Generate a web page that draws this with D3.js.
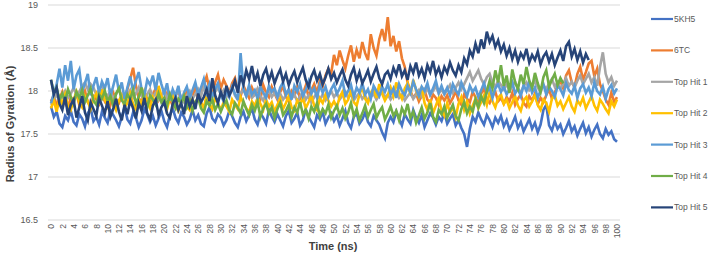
<!DOCTYPE html>
<html>
<head>
<meta charset="utf-8">
<script src="https://cdn.jsdelivr.net/npm/d3@7"></script>
<style>
  html, body { margin: 0; padding: 0; background: #fff; }
  svg { display: block; font-family: "Liberation Sans", Arial, sans-serif; }
</style>
</head>
<body>
<div id="chart"></div>
<script>
const seriesNames = ['5KH5', '6TC', 'Top Hit 1', 'Top Hit 2', 'Top Hit 3', 'Top Hit 4', 'Top Hit 5'];
const seriesColors = ['#4472C4', '#ED7D31', '#A5A5A5', '#FFC000', '#5B9BD5', '#70AD47', '#264478'];
const timeStep = 0.5;
const xTicks = [0,2,4,6,8,10,12,14,16,18,20,22,24,26,28,30,32,34,36,38,40,42,44,46,48,50,52,54,56,58,60,62,64,66,68,70,72,74,76,78,80,82,84,86,88,90,92,94,96,98,100];
const yTicks = [16.5, 17, 17.5, 18, 18.5, 19];

const rg5KH5 = [
  17.82,17.70,17.76,17.62,17.58,17.71,17.66,17.77,17.64,17.60,17.73,17.68,17.59,17.74,17.80,17.65,17.70,17.61,17.76,17.69,
  17.63,17.78,17.72,17.66,17.59,17.70,17.81,17.67,17.62,17.75,17.69,17.58,17.66,17.79,17.73,17.64,17.71,17.60,17.68,17.77,
  17.65,17.58,17.72,17.80,17.69,17.63,17.75,17.70,17.61,17.67,17.78,17.66,17.72,17.62,17.59,17.74,17.81,17.68,17.64,17.73,
  17.69,17.60,17.66,17.77,17.71,17.63,17.58,17.70,17.76,17.65,17.72,17.80,17.67,17.61,17.74,17.69,17.62,17.78,17.70,17.64,
  17.73,17.66,17.59,17.71,17.77,17.63,17.68,17.75,17.60,17.66,17.79,17.70,17.64,17.58,17.72,17.67,17.76,17.62,17.69,17.74,
  17.65,17.71,17.60,17.68,17.77,17.63,17.57,17.70,17.74,17.62,17.67,17.75,17.64,17.59,17.71,17.66,17.61,17.52,17.45,17.63,
  17.70,17.64,17.76,17.68,17.60,17.73,17.67,17.62,17.78,17.69,17.63,17.72,17.58,17.66,17.74,17.69,17.61,17.70,17.65,17.75,
  17.62,17.68,17.73,17.60,17.66,17.57,17.50,17.35,17.56,17.70,17.64,17.75,17.67,17.61,17.72,17.66,17.58,17.69,17.63,17.71,
  17.59,17.66,17.55,17.62,17.70,17.57,17.64,17.53,17.60,17.67,17.56,17.63,17.52,17.61,17.78,17.84,17.60,17.54,17.65,17.56,
  17.61,17.50,17.57,17.65,17.53,17.59,17.48,17.56,17.63,17.51,17.58,17.47,17.55,17.61,17.50,17.45,17.56,17.49,17.53,17.44,
  17.41
];
const rg6TC = [
  17.88,17.95,17.83,17.91,17.99,17.86,17.80,17.93,17.89,17.97,17.84,17.92,18.00,17.87,17.82,17.94,17.90,17.85,17.96,17.88,
  17.93,17.84,17.98,17.90,17.86,17.95,17.88,18.02,18.14,18.27,18.06,17.92,17.87,17.99,17.91,17.84,17.96,18.03,17.89,17.94,
  17.86,17.97,17.91,17.83,17.95,18.01,17.88,17.93,17.99,17.87,17.94,18.04,17.92,17.98,18.08,18.17,18.02,17.95,18.10,18.19,
  18.03,18.13,18.06,17.97,18.09,18.15,18.01,17.94,18.06,17.99,17.92,18.04,17.96,18.01,17.91,18.07,17.98,17.93,18.05,17.97,
  17.90,17.99,18.06,17.93,17.88,18.00,17.95,18.04,17.91,17.97,18.06,17.94,18.01,18.08,17.98,18.12,18.05,18.18,18.26,18.20,
  18.42,18.30,18.47,18.36,18.26,18.41,18.53,18.34,18.48,18.38,18.57,18.44,18.36,18.66,18.50,18.41,18.60,18.72,18.58,18.86,
  18.52,18.64,18.46,18.58,18.38,18.28,18.10,18.00,17.92,17.97,17.88,17.95,18.01,17.90,17.86,17.96,17.92,17.84,17.94,17.89,
  17.95,17.86,17.92,18.00,17.89,17.84,17.96,17.91,17.87,17.99,17.93,17.85,17.97,18.03,17.90,17.86,17.94,17.99,17.88,17.92,
  17.85,17.93,17.88,17.98,17.84,17.91,17.96,17.86,17.82,17.94,17.89,17.97,17.85,17.92,17.87,17.95,18.02,17.91,17.98,18.06,
  18.12,18.03,18.18,18.24,18.10,18.05,18.20,18.28,18.13,18.22,18.32,18.35,18.17,18.26,18.08,18.00,17.90,17.84,17.98,17.87,
  17.93
];
const rgTopHit1 = [
  17.84,17.90,17.96,17.88,17.93,18.00,17.92,17.97,18.04,17.95,17.99,18.06,18.10,18.02,18.08,18.04,17.96,18.01,18.07,17.98,
  17.94,18.00,17.91,17.96,18.03,17.93,17.88,17.95,18.01,17.92,17.97,18.04,17.94,17.89,17.96,18.02,17.93,17.98,17.90,17.95,
  18.00,17.92,17.97,17.88,17.94,18.01,17.93,17.87,17.95,18.00,17.91,17.96,18.02,17.94,18.05,17.97,18.03,18.07,17.99,18.04,
  17.96,18.01,17.93,17.98,18.04,17.95,17.90,17.97,18.02,17.94,17.99,17.92,17.96,18.03,17.94,17.89,17.97,18.01,17.93,17.98,
  17.92,17.97,17.90,17.95,18.00,17.91,17.96,17.88,17.94,17.99,17.90,17.95,17.87,17.93,17.98,17.90,17.96,17.89,17.94,18.00,
  17.93,17.98,17.90,17.95,17.99,17.92,17.96,17.89,17.94,17.98,17.91,17.95,17.88,17.93,17.97,17.90,17.95,18.00,17.92,17.96,
  17.90,17.95,17.99,17.92,17.96,17.89,17.94,17.98,17.91,17.96,18.01,17.93,17.97,18.03,17.95,18.00,18.06,17.97,18.02,17.96,
  18.01,18.07,17.98,18.04,18.10,18.02,18.08,18.15,18.22,18.12,18.18,18.24,18.14,18.08,18.16,18.20,18.10,18.05,18.12,18.07,
  18.02,18.08,18.00,18.05,18.11,18.03,17.98,18.06,18.10,18.01,18.05,18.12,18.04,17.99,18.07,18.02,18.09,18.14,18.05,18.10,
  18.03,18.08,18.15,18.06,18.11,18.04,18.12,18.18,18.08,18.14,18.20,18.10,18.16,18.06,18.28,18.45,18.20,18.10,18.16,18.06,
  18.12
];
const rgTopHit2 = [
  17.80,17.89,17.76,17.92,17.85,17.96,17.83,17.78,17.90,17.99,17.86,17.81,17.94,17.88,17.79,17.91,17.97,17.84,18.02,17.90,
  17.82,17.93,17.87,17.78,17.89,17.95,17.81,17.86,17.97,17.85,17.79,17.91,17.84,17.99,17.88,17.80,17.93,17.86,18.06,17.94,
  17.85,17.79,17.91,17.97,17.83,17.77,17.88,17.95,17.82,17.78,17.90,17.84,17.93,17.87,17.80,17.96,17.85,17.79,17.92,17.86,
  17.78,17.87,17.82,17.76,17.90,17.84,17.79,17.93,17.86,17.80,17.75,17.88,17.83,17.92,17.85,17.78,17.90,17.82,17.87,17.76,
  17.84,17.91,17.79,17.86,17.94,17.81,17.77,17.89,17.84,17.92,17.80,17.87,17.95,17.83,17.78,17.91,17.86,17.96,17.89,17.82,
  17.88,17.81,17.93,17.99,17.85,17.90,18.02,17.87,17.83,17.96,18.05,17.91,17.86,17.98,18.03,17.92,18.08,17.97,17.89,17.95,
  18.04,17.94,18.10,17.98,17.91,18.03,18.09,17.96,18.13,18.01,17.93,18.05,17.86,17.78,17.90,17.74,17.83,17.92,17.77,17.71,
  17.86,17.75,17.81,17.70,17.85,17.93,17.78,17.88,17.74,17.83,17.91,17.80,17.87,17.95,17.84,17.99,17.88,17.81,17.92,17.96,
  17.85,17.90,17.80,17.87,17.94,17.83,17.77,17.89,17.93,17.82,17.88,17.95,17.84,17.78,17.90,17.86,17.76,17.91,17.95,17.83,
  17.88,17.79,17.86,17.93,17.82,17.76,17.89,17.84,17.92,17.80,17.87,17.94,17.83,17.77,17.90,17.85,17.79,17.74,17.88,17.82,
  17.90
];
const rgTopHit3 = [
  17.86,17.97,18.08,18.26,18.04,18.30,18.12,18.35,18.02,18.18,18.25,17.99,18.09,18.20,17.95,18.06,18.16,17.98,18.11,18.03,
  18.15,17.94,18.06,18.19,17.99,18.10,17.91,18.04,18.17,18.00,18.12,18.22,18.02,17.95,18.13,18.07,18.18,18.01,18.21,18.08,
  17.97,18.09,17.89,18.02,17.94,18.06,17.87,17.98,18.05,17.92,18.01,18.10,17.96,18.04,18.14,17.98,18.08,17.93,18.02,18.09,
  17.95,17.88,18.00,17.93,18.05,17.97,17.90,18.44,18.02,17.94,18.07,17.96,18.01,17.91,18.05,17.98,17.92,18.06,17.99,18.03,
  17.93,18.04,18.10,17.96,18.02,17.90,18.06,17.99,18.08,17.94,18.01,18.11,17.97,18.03,17.92,18.07,17.98,18.05,17.93,18.02,
  18.08,17.97,18.03,18.12,17.95,18.00,18.07,17.93,18.04,17.98,18.09,17.96,18.02,17.91,18.06,18.00,17.94,18.05,17.99,18.08,
  17.96,18.03,17.92,18.08,18.00,17.95,18.06,17.98,18.11,18.02,17.94,18.05,18.00,18.09,17.96,18.03,18.12,17.98,18.06,17.97,
  18.04,17.95,18.08,18.01,17.96,18.10,18.02,17.94,18.06,17.99,18.04,17.93,18.01,18.09,17.98,18.05,17.92,18.03,18.08,17.99,
  18.05,17.96,18.02,18.10,17.97,18.03,17.94,18.07,18.00,18.11,17.98,18.04,17.92,18.01,18.08,17.96,18.05,18.00,17.93,18.06,
  18.02,17.95,18.09,18.01,17.97,18.06,17.92,18.03,18.08,17.98,18.04,17.94,18.10,18.00,17.96,18.05,17.91,18.02,18.07,17.97,
  18.03
];
const rgTopHit4 = [
  18.13,17.98,18.04,17.90,17.97,17.88,18.02,17.93,17.85,17.99,17.92,18.01,17.87,17.95,18.03,17.89,17.84,17.96,17.91,18.00,
  17.88,17.94,17.83,17.97,18.03,17.89,17.85,17.96,17.91,18.01,17.86,17.93,18.04,17.88,17.81,17.95,17.90,17.84,17.97,17.87,
  17.92,17.83,17.96,17.88,17.80,17.91,17.86,17.94,17.81,17.89,17.77,17.87,17.92,17.80,17.75,17.88,17.83,17.90,17.78,17.85,
  17.76,17.84,17.89,17.78,17.73,17.86,17.81,17.74,17.88,17.79,17.72,17.84,17.77,17.87,17.70,17.80,17.85,17.74,17.81,17.69,
  17.79,17.86,17.72,17.77,17.84,17.70,17.81,17.75,17.87,17.73,17.78,17.68,17.82,17.76,17.86,17.71,17.79,17.74,17.84,17.69,
  17.77,17.83,17.72,17.80,17.68,17.75,17.86,17.71,17.79,17.66,17.74,17.83,17.70,17.78,17.85,17.69,17.76,17.81,17.67,17.74,
  17.82,17.71,17.77,17.66,17.80,17.73,17.85,17.69,17.76,17.63,17.72,17.81,17.68,17.75,17.86,17.70,17.64,17.78,17.73,17.82,
  17.69,17.77,17.84,17.71,17.66,17.79,17.87,17.74,17.82,17.76,17.90,17.81,17.94,17.86,18.00,18.12,18.03,18.24,18.10,18.30,
  18.06,18.18,17.98,18.25,18.10,18.02,18.19,18.08,18.28,18.12,18.04,18.21,18.09,17.99,18.16,18.24,18.05,18.13,18.20,18.07,
  18.15,18.09
];
const rgTopHit5 = [
  18.13,17.96,18.04,17.85,17.78,17.93,17.72,17.84,17.90,17.69,17.81,17.94,17.75,17.66,17.87,17.79,17.71,17.92,17.83,17.74,
  17.88,17.70,17.79,17.91,17.76,17.66,17.84,17.73,17.89,17.80,17.68,17.86,17.77,17.92,17.74,17.67,17.83,17.90,17.72,17.81,
  17.87,17.74,17.69,17.85,17.92,17.78,17.86,17.73,17.94,17.82,17.90,17.79,17.97,17.87,17.93,18.02,17.88,18.15,17.95,17.86,
  17.99,17.90,18.06,17.95,18.02,18.12,17.98,18.18,18.08,18.24,18.14,18.29,18.11,18.21,18.06,18.19,18.26,18.12,18.22,18.09,
  18.18,18.25,18.11,18.20,18.07,18.16,18.23,18.10,18.19,18.27,18.13,18.05,18.17,18.24,18.12,18.20,18.08,18.16,18.26,18.14,
  18.21,18.10,18.18,18.25,18.13,18.06,18.19,18.27,18.12,18.22,18.09,18.16,18.24,18.11,18.20,18.28,18.15,18.08,18.19,18.23,
  18.14,18.27,18.19,18.31,18.17,18.24,18.13,18.29,18.21,18.33,18.18,18.26,18.15,18.30,18.22,18.35,18.19,18.27,18.16,18.28,
  18.21,18.33,18.24,18.18,18.30,18.22,18.38,18.31,18.47,18.40,18.55,18.44,18.60,18.49,18.69,18.57,18.64,18.51,18.59,18.46,
  18.54,18.41,18.50,18.37,18.47,18.34,18.44,18.38,18.49,18.33,18.42,18.36,18.46,18.31,18.40,18.45,18.34,18.43,18.30,18.39,
  18.47,18.35,18.52,18.57,18.40,18.49,18.36,18.46,18.33,18.43,
  18.36
];
const seriesValues = [rg5KH5, rg6TC, rgTopHit1, rgTopHit2, rgTopHit3, rgTopHit4, rgTopHit5];

const W = 708, H = 256;
const svg = d3.select('#chart').append('svg')
  .attr('width', W).attr('height', H);

const x = d3.scaleLinear().domain([0, 100]).range([51, 617]);
const y = d3.scaleLinear().domain([16.5, 19]).range([220, 5]);

// Gridlines
svg.append('g')
  .selectAll('line')
  .data(yTicks)
  .join('line')
  .attr('x1', 48).attr('x2', 620)
  .attr('y1', d => y(d)).attr('y2', d => y(d))
  .attr('stroke', '#D9D9D9')
  .attr('stroke-width', 1);

// Y axis labels
const yAxis = svg.append('g')
  .attr('transform', 'translate(38,0)')
  .call(d3.axisLeft(y).tickValues(yTicks).tickSize(0).tickPadding(0).tickFormat(d3.format('')));
yAxis.select('.domain').remove();
yAxis.selectAll('text')
  .attr('font-size', '9px')
  .attr('fill', '#595959')
  .attr('font-family', '"Liberation Sans", Arial, sans-serif');

// X axis labels (rotated)
const xAxis = svg.append('g')
  .attr('transform', 'translate(0,222)')
  .call(d3.axisBottom(x).tickValues(xTicks).tickSize(0).tickPadding(0));
xAxis.select('.domain').remove();
xAxis.selectAll('text')
  .attr('font-size', '8.5px')
  .attr('fill', '#595959')
  .attr('font-family', '"Liberation Sans", Arial, sans-serif')
  .attr('text-anchor', 'end')
  .attr('dy', '0.32em')
  .attr('y', 0)
  .attr('x', -2)
  .attr('transform', 'rotate(-90)');

// Lines, drawn in legend order so Top Hit 5 ends up on top
const line = d3.line()
  .x((d, i) => x(i * timeStep))
  .y(d => y(d));

seriesValues.forEach((vals, k) => {
  svg.append('path')
    .datum(vals)
    .attr('d', line)
    .attr('fill', 'none')
    .attr('stroke', seriesColors[k])
    .attr('stroke-width', 2.6)
    .attr('stroke-linejoin', 'miter');
});

// Axis titles
svg.append('text')
  .attr('x', 333).attr('y', 250)
  .attr('text-anchor', 'middle')
  .attr('font-size', '11px')
  .attr('font-weight', 700)
  .attr('fill', '#404040')
  .text('Time (ns)');

svg.append('text')
  .attr('transform', 'translate(14,124) rotate(-90)')
  .attr('text-anchor', 'middle')
  .attr('font-size', '11px')
  .attr('font-weight', 700)
  .attr('fill', '#404040')
  .text('Radius of  Gyration (Å)');

// Legend
const legend = svg.append('g');
seriesNames.forEach((name, i) => {
  const ly = 19 + i * 31.4;
  legend.append('line')
    .attr('x1', 651).attr('x2', 673)
    .attr('y1', ly).attr('y2', ly)
    .attr('stroke', seriesColors[i])
    .attr('stroke-width', 2.2);
  legend.append('text')
    .attr('x', 674).attr('y', ly)
    .attr('dy', '0.35em')
    .attr('font-size', '8.5px')
    .attr('fill', '#595959')
    .text(name);
});
</script>
</body>
</html>
